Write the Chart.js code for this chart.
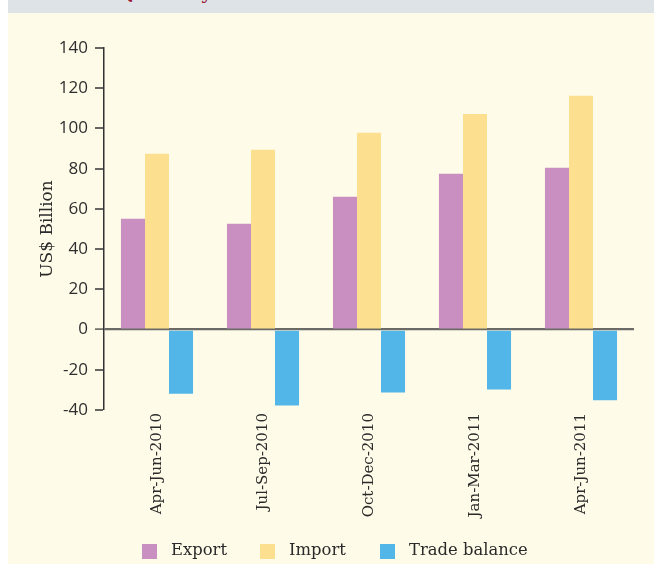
<!DOCTYPE html>
<html>
<head>
<meta charset="utf-8">
<script src="https://cdn.jsdelivr.net/npm/chart.js@4/dist/chart.umd.min.js"></script>
<style>
  html, body { margin: 0; padding: 0; background: #fffbe9; }
  #wrap { position: relative; width: 654px; height: 564px; overflow: hidden; background: #fffbe9; }
  #chartBox { position: absolute; left: 0; top: 0; width: 654px; height: 564px; }
  #leftStrip { position: absolute; left: 0; top: 0; width: 8px; height: 564px; background: #ffffff; }
  #topBand { position: absolute; left: 8px; top: 0; width: 646px; height: 13px; background: #dee3e8; overflow: hidden; }
  #topBand span { position: absolute; left: 112px; top: -15px; font: bold 17px "DejaVu Serif", serif; line-height: 17px; color: #9b1530; white-space: nowrap; }
  .lg { position: absolute; top: 539px; font: 16.4px "DejaVu Serif", serif; color: #2a2a2a; white-space: nowrap; line-height: 22px; }
  .lg i { position: absolute; top: 5px; width: 15px; height: 15px; }
</style>
</head>
<body>
<div id="wrap">
  <div id="chartBox"><canvas id="c" width="654" height="564"></canvas></div>
  <div id="leftStrip"></div>
  <div id="topBand"><span>Quarterly</span></div>
  <div id="legend"></div>
</div>
<script>
const categories = ["Apr-Jun-2010", "Jul-Sep-2010", "Oct-Dec-2010", "Jan-Mar-2011", "Apr-Jun-2011"];
const exportValues = [55.1, 52.6, 66.0, 77.5, 80.4];
const importValues = [87.4, 89.4, 97.8, 107.2, 116.2];
const tradeBalance = [-31.9, -37.8, -31.3, -29.8, -35.2];
const seriesNames = ["Export", "Import", "Trade balance"];
const seriesColors = ["#c88fc0", "#fde08f", "#52b6e8"];
const yTickMin = -40, yTickMax = 140, yTickStep = 20;

// HTML legend (real text)
const legendX = [142, 260, 380];
const legend = document.getElementById('legend');
seriesNames.forEach((name, i) => {
  const d = document.createElement('div');
  d.className = 'lg';
  d.style.left = legendX[i] + 'px';
  d.innerHTML = '<i style="left:0;background:' + seriesColors[i] + '"></i><span style="margin-left:29px">' + name + '</span>';
  legend.appendChild(d);
});

const ctx = document.getElementById('c').getContext('2d');
new Chart(ctx, {
  type: 'bar',
  data: {
    labels: categories,
    datasets: [
      { label: seriesNames[0], data: exportValues, backgroundColor: seriesColors[0] },
      { label: seriesNames[1], data: importValues, backgroundColor: seriesColors[1] },
      { label: seriesNames[2], data: tradeBalance, backgroundColor: seriesColors[2] }
    ]
  },
  options: {
    responsive: false,
    animation: false,
    layout: { padding: { top: 48, right: 20, left: 0, bottom: 0 } },
    datasets: { bar: { categoryPercentage: 0.68, barPercentage: 1.0 } },
    plugins: { legend: { display: false }, tooltip: { enabled: false } },
    scales: {
      x: {
        grid: { display: false, drawTicks: false },
        border: { display: false },
        ticks: {
          minRotation: 90, maxRotation: 90, padding: 3,
          color: '#2a2a2a',
          font: { family: 'DejaVu Serif', size: 15 }
        },
        afterFit: (s) => { s.height = 154; }
      },
      y: {
        z: 1,
        min: yTickMin, max: yTickMax,
        ticks: {
          stepSize: yTickStep, padding: 7,
          color: '#2e2e2e',
          font: { family: 'Open Sans', size: 17 }
        },
        grid: {
          drawOnChartArea: true,
          drawTicks: true,
          tickLength: 9,
          color: (c) => (c.tick && c.tick.value === 0) ? '#6a6a66' : 'rgba(0,0,0,0)',
          lineWidth: (c) => (c.tick && c.tick.value === 0) ? 2.2 : 0,
          tickColor: (c) => (c.tick && c.tick.value === 0) ? '#5a5a56' : '#333333',
          tickWidth: 1.5
        },
        border: { display: true, color: '#333333', width: 1.5 },
        title: {
          display: true, text: 'US$ Billion',
          color: '#2a2a2a',
          font: { family: 'DejaVu Serif', size: 17 },
          padding: { top: 37, bottom: 0 }
        },
        afterFit: (s) => { s.width = 104; }
      }
    }
  }
});
</script>
</body>
</html>
